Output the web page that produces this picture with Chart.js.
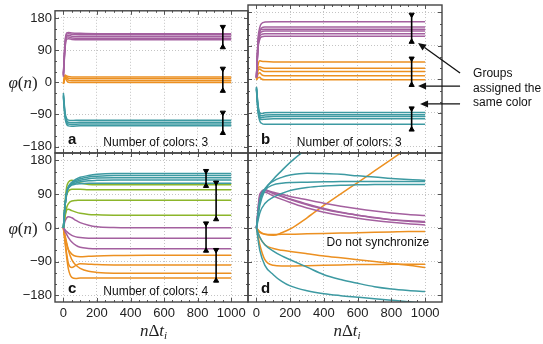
<!DOCTYPE html>
<html>
<head>
<meta charset="utf-8">
<script src="https://cdn.jsdelivr.net/npm/chart.js@4.4.0/dist/chart.umd.min.js"></script>
<style>
html, body { margin: 0; padding: 0; background: #fff; }
#wrap { position: relative; width: 543px; height: 344px; }
canvas { position: absolute; left: 0; top: 0; }
</style>
</head>
<body>
<div id="wrap">
  <canvas id="pa" width="543" height="344"></canvas>
  <canvas id="pb" width="543" height="344"></canvas>
  <canvas id="pc" width="543" height="344"></canvas>
  <canvas id="pd" width="543" height="344"></canvas>
</div>
<script>
'use strict';

// COLORS
var PURPLE = '#a4609f';
var ORANGE = '#ec9021';
var TEAL = '#3d9aa2';
var GREEN = '#8cb52a';

// TICKS
var xTicks = [0, 200, 400, 600, 800, 1000];
var xTickLabels = ['0', '200', '400', '600', '800', '1000'];
var yTicks = [-180, -90, 0, 90, 180];
var yTickLabels = ['\u2212180', '\u221290', '0', '90', '180'];

// PANEL A - 3 colors
var xsA = [0, 10, 20, 30, 50, 100, 200, 1000];
var aPurple = [
  [25, 115, 138, 139, 138, 137, 136, 136],
  [22, 110, 135, 136, 134, 133, 133, 133],
  [20, 105, 130, 131, 129, 128, 128, 128],
  [18, 100, 126, 127, 124, 123, 123, 123],
  [15, 95, 121, 122, 120, 119, 119, 119]
];
var aOrange = [
  [-2, 20, 18, 16, 15, 15, 15, 15],
  [-3, 18, 14, 11, 10, 10, 10, 10],
  [-4, 16, 10, 6, 4, 4, 4, 4],
  [-5, 12, 4, 0, -1, -1, -1, -1]
];
var aTeal = [
  [-30, -85, -102, -106, -107, -106, -106, -106],
  [-35, -90, -108, -112, -113, -112, -112, -112],
  [-38, -95, -113, -117, -118, -117, -117, -117],
  [-42, -100, -118, -122, -123, -122, -122, -122]
];
var aBarX = [950, 950, 950];
var aBarLo = [98, -24, -142];
var aBarHi = [155, 38, -85];

// PANEL B - 3 colors
var xsB = [0, 10, 20, 30, 50, 100, 200, 1000];
var bPurple = [
  [5, 110, 140, 150, 154, 155, 155, 155],
  [5, 105, 130, 138, 141, 141, 141, 141],
  [5, 100, 128, 134, 135, 135, 135, 135],
  [5, 95, 122, 128, 130, 130, 130, 130],
  [5, 90, 115, 121, 123, 123, 123, 123],
  [5, 85, 108, 114, 116, 116, 116, 116]
];
var bOrange = [
  [5, 40, 50, 49, 48, 47, 47, 47],
  [3, 30, 34, 32, 30, 30, 30, 30],
  [2, 25, 28, 24, 21, 21, 21, 21],
  [0, 15, 18, 13, 10, 10, 10, 10],
  [-2, 5, 6, 1, -1, -1, -1, -1]
];
var bTeal = [
  [-20, -70, -90, -92, -90, -89, -89, -89],
  [-22, -75, -95, -98, -96, -95, -95, -95],
  [-24, -80, -100, -103, -101, -100, -100, -100],
  [-26, -85, -105, -108, -107, -106, -106, -106],
  [-28, -90, -112, -118, -121, -121, -121, -121]
];
var bBarX = [920, 920, 920];
var bBarLo = [101, -15, -135];
var bBarHi = [174, 56, -78];

// PANEL C - 4 colors
var xsC = [0, 10, 20, 30, 50, 75, 100, 150, 200, 300, 500, 1000];
var cTeal = [
  [0, 60, 95, 110, 122, 130, 135, 140, 143, 145, 145, 145],
  [0, 60, 95, 110, 120, 127, 131, 136, 138, 140, 140, 140],
  [0, 60, 95, 108, 118, 124, 127, 131, 133, 134, 134, 134],
  [0, 60, 95, 107, 116, 120, 123, 126, 127, 128, 128, 128],
  [0, 60, 95, 106, 114, 117, 118, 119, 119, 119, 119, 119]
];
var cGreen = [
  [0, 70, 110, 122, 127, 124, 120, 116, 115, 115, 115, 115],
  [0, 60, 88, 98, 103, 103, 103, 102, 102, 102, 102, 102],
  [0, 35, 55, 65, 72, 73, 74, 74, 74, 74, 74, 74],
  [0, 30, 48, 50, 46, 42, 39, 36, 35, 34, 34, 34]
];
var cPurple = [
  [0, 18, 27, 30, 27, 20, 14, 7, 3, 1, 0, 0],
  [0, -5, -10, -14, -20, -24, -26, -28, -28, -28, -28, -28],
  [0, -10, -18, -26, -38, -47, -52, -55, -56, -56, -56, -56]
];
var cOrange = [
  [0, -25, -45, -58, -70, -76, -77, -76, -75, -74, -73, -73],
  [0, -35, -70, -95, -106, -100, -96, -97, -98, -99, -99, -99],
  [0, -20, -40, -60, -85, -100, -108, -116, -119, -121, -121, -121],
  [0, -40, -80, -110, -132, -135, -134, -134, -134, -134, -134, -134]
];
var cBarX = [850, 910, 850, 910];
var cBarLo = [112, 23, -61, -141];
var cBarHi = [152, 121, 12, -59];

// PANEL D - no sync
var xsD = [0, 20, 50, 100, 150, 200, 300, 400, 500, 600, 700, 800, 900, 1000];
var dTeal = [
  [0, 60, 100, 130, 153, 175, 212, 245, 278, 310, 340, 370, 400, 425],
  [0, 75, 105, 125, 135, 141, 146, 145, 143, 139, 136, 132, 129, 127],
  [0, 70, 100, 115, 119, 121, 122, 123, 124, 124, 124, 124, 124, 124],
  [0, 40, 65, 82, 92, 100, 108, 112, 114, 115, 116, 116, 116, 116],
  [0, -60, -100, -125, -143, -155, -168, -176, -181, -185, -189, -193, -197, -201],
  [0, -25, -45, -62, -75, -85, -105, -125, -138, -148, -157, -163, -167, -170]
];
var dPurple = [
  [0, 80, 100, 95, 90, 84, 75, 66, 58, 51, 45, 40, 36, 33],
  [0, 85, 102, 92, 84, 76, 62, 50, 41, 34, 28, 22, 18, 15],
  [0, 75, 95, 85, 76, 68, 53, 42, 33, 26, 20, 15, 11, 8],
  [0, 90, 100, 92, 85, 77, 64, 52, 42, 34, 27, 22, 19, 17]
];
var dOrange = [
  [0, -10, -17, -20, -13, -3, 27, 60, 91, 121, 152, 183, 214, 245],
  [0, -12, -17, -18, -17, -17, -16, -15, -14, -13, -12, -11, -10, -10],
  [0, -25, -45, -55, -60, -63, -69, -75, -80, -85, -90, -95, -100, -106],
  [0, -45, -85, -100, -102, -102, -101, -100, -99, -98, -98, -97, -97, -97]
];

// ANNOTATIONS (data units of panel b)
var arrowsB = [
  { x0: 1207, y0: 17, x1: 958, y1: 98 },
  { x0: 1207, y0: -18, x1: 958, y1: -18 },
  { x0: 1207, y0: -66, x1: 970, y1: -66 }
];
var noteBLines = ['Groups', 'assigned the', 'same color'];

var SANS = '"Liberation Sans", Arial, sans-serif';
var SERIF = '"Liberation Serif", "Times New Roman", serif';

var decoById = {};

function toPoints(xs, ys) {
  var pts = [];
  for (var i = 0; i < xs.length; i++) {
    pts.push({ x: xs[i], y: ys[i] });
  }
  return pts;
}

function lineSets(xs, group, color) {
  return group.map(function (ys) {
    return {
      data: toPoints(xs, ys),
      borderColor: color,
      borderWidth: 1.5,
      pointRadius: 0,
      tension: 0.4,
      cubicInterpolationMode: 'monotone',
      fill: false
    };
  });
}

function barSets(bx, lo, hi) {
  var sets = [];
  for (var i = 0; i < bx.length; i++) {
    sets.push({
      data: [{ x: bx[i], y: lo[i] }, { x: bx[i], y: hi[i] }],
      borderColor: '#000',
      borderWidth: 1.6,
      pointStyle: 'triangle',
      pointRotation: [0, 180],
      pointRadius: 3,
      pointBackgroundColor: '#000',
      pointBorderColor: '#000',
      pointBorderWidth: 1,
      tension: 0,
      order: -1
    });
  }
  return sets;
}

function drawLine(ctx, x0, y0, x1, y1) {
  ctx.beginPath();
  ctx.moveTo(x0, y0);
  ctx.lineTo(x1, y1);
  ctx.stroke();
}

function drawPieces(ctx, pieces, cx, by) {
  var total = 0;
  pieces.forEach(function (p) {
    ctx.font = p.f;
    total += ctx.measureText(p.t).width;
  });
  var x = cx - total / 2;
  pieces.forEach(function (p) {
    ctx.font = p.f;
    ctx.fillText(p.t, x, by + (p.dy || 0));
    x += ctx.measureText(p.t).width;
  });
}

var decoPlugin = {
  id: 'deco',
  afterDraw: function (chart) {
    var ctx = chart.ctx;
    var a = chart.chartArea;
    var sx = chart.scales.x;
    var sy = chart.scales.y;
    var d = decoById[chart.canvas.id];
    var v, p, len;
    ctx.save();

    // TICK MARKS ON FRAME
    ctx.strokeStyle = '#555';
    ctx.lineWidth = 1;
    for (v = 0; v <= 1000; v += 50) {
      p = Math.round(sx.getPixelForValue(v)) + 0.5;
      len = v % 200 === 0 ? 4 : 2;
      drawLine(ctx, p, a.top, p, a.top + len);
      drawLine(ctx, p, a.bottom, p, a.bottom - len);
    }
    for (v = -180; v <= 180; v += 30) {
      p = Math.round(sy.getPixelForValue(v)) + 0.5;
      len = v % 90 === 0 ? 4 : 2;
      drawLine(ctx, a.left, p, a.left + len, p);
      drawLine(ctx, a.right, p, a.right - len, p);
    }

    // FRAME
    ctx.strokeStyle = '#444';
    ctx.lineWidth = 1.4;
    ctx.strokeRect(a.left, a.top, a.right - a.left, a.bottom - a.top);

    // PANEL LETTER + NOTE
    ctx.fillStyle = '#111';
    ctx.textBaseline = 'alphabetic';
    ctx.textAlign = 'left';
    ctx.font = 'bold 15px ' + SANS;
    ctx.fillText(d.letter, a.left + 13, a.bottom - 9);
    if (d.note) {
      ctx.font = '12px ' + SANS;
      ctx.textAlign = 'center';
      ctx.fillText(d.note, sx.getPixelForValue(d.noteX), sy.getPixelForValue(d.noteY));
    }

    // AXIS TITLES
    ctx.textAlign = 'left';
    ctx.fillStyle = '#222';
    if (d.yTitle) {
      drawPieces(ctx, [
        { t: '\u03c6', f: 'italic 17px ' + SERIF },
        { t: '(', f: '17px ' + SERIF },
        { t: 'n', f: 'italic 17px ' + SERIF },
        { t: ')', f: '17px ' + SERIF }
      ], 23, (a.top + a.bottom) / 2 + 6);
    }
    if (d.xTitle) {
      drawPieces(ctx, [
        { t: 'n', f: 'italic 17px ' + SERIF },
        { t: '\u0394', f: '17px ' + SERIF },
        { t: 't', f: 'italic 17px ' + SERIF },
        { t: 'i', f: 'italic 11px ' + SERIF, dy: 3 }
      ], (a.left + a.right) / 2 + 2, 336);
    }

    // ARROWS + GROUP NOTE
    if (d.arrows) {
      ctx.strokeStyle = '#111';
      ctx.fillStyle = '#111';
      ctx.lineWidth = 1.3;
      d.arrows.forEach(function (ar) {
        var x0 = sx.getPixelForValue(ar.x0), y0 = sy.getPixelForValue(ar.y0);
        var x1 = sx.getPixelForValue(ar.x1), y1 = sy.getPixelForValue(ar.y1);
        var ang = Math.atan2(y1 - y0, x1 - x0);
        var hl = 8, hw = 3.5;
        var bx = x1 - hl * Math.cos(ang), by = y1 - hl * Math.sin(ang);
        drawLine(ctx, x0, y0, bx, by);
        ctx.beginPath();
        ctx.moveTo(x1, y1);
        ctx.lineTo(bx + hw * Math.sin(ang), by - hw * Math.cos(ang));
        ctx.lineTo(bx - hw * Math.sin(ang), by + hw * Math.cos(ang));
        ctx.closePath();
        ctx.fill();
      });
      ctx.font = '12px ' + SANS;
      ctx.textAlign = 'left';
      var tx = sx.getPixelForValue(d.arrows[0].x0) + 13;
      var ty = sy.getPixelForValue(d.arrows[0].y0) + 4;
      d.noteLines.forEach(function (s, i) {
        ctx.fillText(s, tx, ty + i * 14.5);
      });
    }
    ctx.restore();
  }
};

function makePanel(id, opts) {
  decoById[id] = opts;
  var datasets = [];
  opts.groups.forEach(function (g) {
    datasets = datasets.concat(lineSets(opts.xs, g.lines, g.color));
  });
  if (opts.bars) {
    datasets = datasets.concat(barSets(opts.bars[0], opts.bars[1], opts.bars[2]));
  }
  return new Chart(document.getElementById(id), {
    type: 'line',
    data: { datasets: datasets },
    options: {
      responsive: false,
      animation: false,
      devicePixelRatio: 1,
      layout: { padding: opts.pad },
      plugins: { legend: { display: false }, tooltip: { enabled: false } },
      scales: {
        x: {
          type: 'linear',
          min: -50,
          max: 1100,
          afterBuildTicks: function (s) { s.ticks = xTicks.map(function (v) { return { value: v }; }); },
          afterFit: function (s) { s.height = opts.showX ? 42 : 0; },
          ticks: {
            display: opts.showX,
            autoSkip: false,
            maxRotation: 0,
            padding: 4,
            color: '#222',
            font: { family: SANS, size: 13 },
            callback: function (v) { return xTickLabels[xTicks.indexOf(v)]; }
          },
          grid: { color: '#c4c4c4', lineWidth: 1, drawTicks: false },
          border: { display: false, dash: [1, 2] }
        },
        y: {
          type: 'linear',
          min: -198,
          max: 200,
          afterBuildTicks: function (s) { s.ticks = yTicks.map(function (v) { return { value: v }; }); },
          afterFit: function (s) { s.width = opts.showY ? 55 : 0; },
          ticks: {
            display: opts.showY,
            padding: 3,
            color: '#222',
            font: { family: SANS, size: 13 },
            callback: function (v) { return yTickLabels[yTicks.indexOf(v)]; }
          },
          grid: { color: '#c4c4c4', lineWidth: 1, drawTicks: false },
          border: { display: false, dash: [1, 2] }
        }
      }
    },
    plugins: [decoPlugin]
  });
}

makePanel('pa', {
  pad: { left: 0, top: 5, right: 295, bottom: 191 },
  showX: false, showY: true, yTitle: true, xTitle: false,
  xs: xsA,
  groups: [{ color: PURPLE, lines: aPurple }, { color: ORANGE, lines: aOrange }, { color: TEAL, lines: aTeal }],
  bars: [aBarX, aBarLo, aBarHi],
  letter: 'a', note: 'Number of colors: 3', noteX: 550, noteY: -178
});

makePanel('pb', {
  pad: { left: 248, top: 5, right: 101, bottom: 191 },
  showX: false, showY: false, yTitle: false, xTitle: false,
  xs: xsB,
  groups: [{ color: PURPLE, lines: bPurple }, { color: ORANGE, lines: bOrange }, { color: TEAL, lines: bTeal }],
  bars: [bBarX, bBarLo, bBarHi],
  letter: 'b', note: 'Number of colors: 3', noteX: 550, noteY: -178,
  arrows: arrowsB, noteLines: noteBLines
});

makePanel('pc', {
  pad: { left: 0, top: 153, right: 295, bottom: 0 },
  showX: true, showY: true, yTitle: true, xTitle: true,
  xs: xsC,
  groups: [{ color: TEAL, lines: cTeal }, { color: GREEN, lines: cGreen }, { color: PURPLE, lines: cPurple }, { color: ORANGE, lines: cOrange }],
  bars: [cBarX, cBarLo, cBarHi],
  letter: 'c', note: 'Number of colors: 4', noteX: 550, noteY: -178
});

makePanel('pd', {
  pad: { left: 248, top: 153, right: 101, bottom: 0 },
  showX: true, showY: false, yTitle: false, xTitle: true,
  xs: xsD,
  groups: [{ color: TEAL, lines: dTeal }, { color: PURPLE, lines: dPurple }, { color: ORANGE, lines: dOrange }],
  bars: null,
  letter: 'd', note: 'Do not synchronize', noteX: 720, noteY: -48
});
</script>
</body>
</html>
